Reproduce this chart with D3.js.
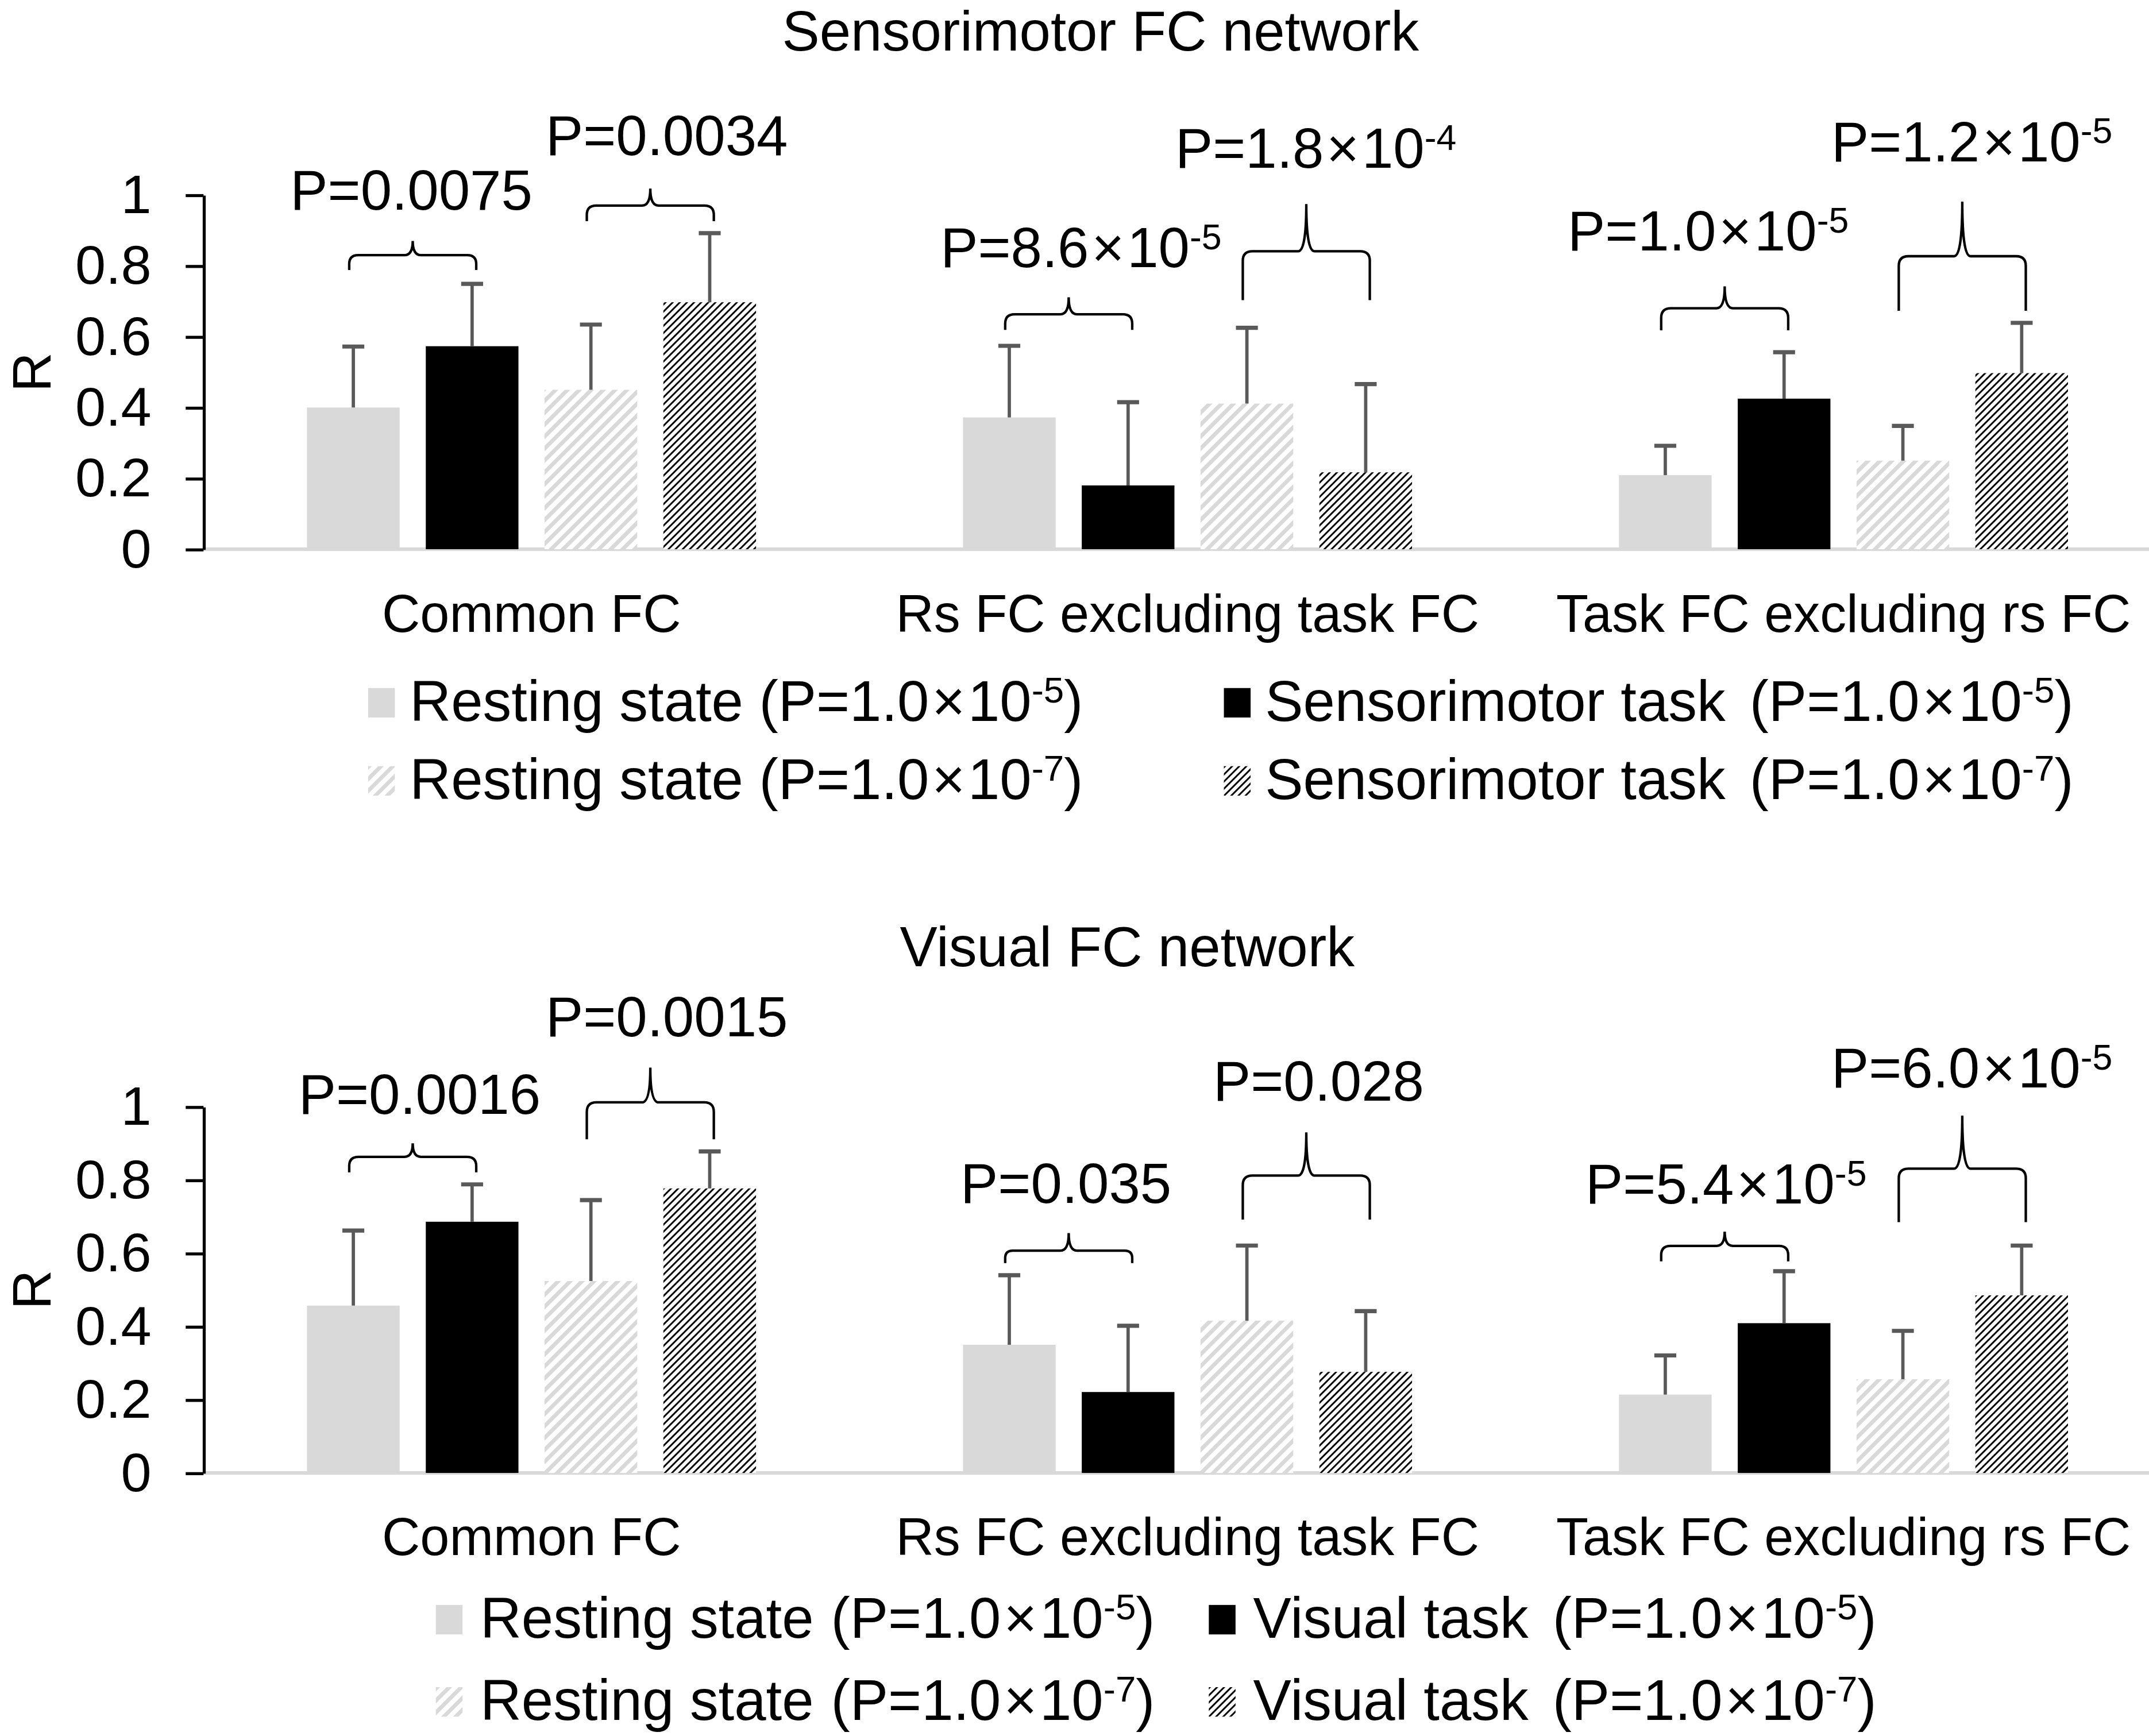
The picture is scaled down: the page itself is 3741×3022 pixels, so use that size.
<!DOCTYPE html>
<html>
<head>
<meta charset="utf-8">
<script src="https://cdn.jsdelivr.net/npm/d3@7"></script>
<style>
  body { margin: 0; background: #fff; }
  svg text { font-family: "Liberation Sans", Arial, Helvetica, sans-serif; fill: #000; }
</style>
</head>
<body>
<script>
// ---- data (R, mean and SD per bar) ----
var categories = ["Common FC", "Rs FC excluding task FC", "Task FC excluding rs FC"];
var seriesKeys = ["rest5", "task5", "rest7", "task7"];
var yTicks = [0, 0.2, 0.4, 0.6, 0.8, 1];

// sensorimotor network
var smRest5 = [0.400, 0.372, 0.209];
var smTask5 = [0.573, 0.180, 0.425];
var smRest7 = [0.450, 0.411, 0.250];
var smTask7 = [0.697, 0.217, 0.497];
var smRest5Err = [0.172, 0.202, 0.083];
var smTask5Err = [0.176, 0.235, 0.131];
var smRest7Err = [0.184, 0.214, 0.098];
var smTask7Err = [0.195, 0.249, 0.142];
var smPValues = ["0.0075", "0.0034", "8.6×10^-5", "1.8×10^-4", "1.0×10^-5", "1.2×10^-5"];
// brace levels in R units: leg end, bar, peak, label baseline
var smBrace = [[0.788, 0.830, 0.870, 0.958], [0.926, 0.970, 1.018, 1.113],
               [0.619, 0.663, 0.711, 0.796], [0.703, 0.841, 0.974, 1.076],
               [0.618, 0.680, 0.742, 0.843], [0.673, 0.827, 0.981, 1.095]];
var smLegend = ["Resting state", "Sensorimotor task", "Resting state", "Sensorimotor task"];

// visual network
var visRest5 = [0.457, 0.350, 0.214];
var visTask5 = [0.686, 0.221, 0.409];
var visRest7 = [0.524, 0.416, 0.256];
var visTask7 = [0.777, 0.276, 0.485];
var visRest5Err = [0.205, 0.190, 0.107];
var visTask5Err = [0.102, 0.181, 0.142];
var visRest7Err = [0.221, 0.205, 0.132];
var visTask7Err = [0.101, 0.166, 0.136];
var visPValues = ["0.0016", "0.0015", "0.035", "0.028", "5.4×10^-5", "6.0×10^-5"];
var visBrace = [[0.821, 0.863, 0.900, 0.980], [0.911, 1.012, 1.107, 1.192],
                [0.573, 0.607, 0.655, 0.738], [0.692, 0.812, 0.930, 1.017],
                [0.578, 0.620, 0.659, 0.736], [0.685, 0.831, 0.976, 1.053]];
var visLegend = ["Resting state", "Visual task", "Resting state", "Visual task"];

var legendP = ["1.0×10^-5", "1.0×10^-5", "1.0×10^-7", "1.0×10^-7"];

// ---- layout (figure drawn in 1568-wide units, scaled up to the window) ----
var W = 1568, H = 1266.6;
var fills = ["#d9d9d9", "#000", "url(#hatchLight)", "url(#hatchDark)"];

var panels = [
  { title: "Sensorimotor FC network", titleX: 803, titleY: 37,
    y0: 400.7, y1: 142.2, catY: 461, rY: 271.5,
    series: [smRest5, smTask5, smRest7, smTask7],
    errs: [smRest5Err, smTask5Err, smRest7Err, smTask7Err],
    pvals: smPValues, brace: smBrace, labelShift: [-1, 12, 9, 7, -12, 7],
    legend: smLegend, legRows: [526, 583], swX: [268.6, 893], txX: [299, 923], gap: [0, 6] },
  { title: "Visual FC network", titleX: 822.5, titleY: 705,
    y0: 1074.7, y1: 807.5, catY: 1134.5, rY: 941,
    series: [visRest5, visTask5, visRest7, visTask7],
    errs: [visRest5Err, visTask5Err, visRest7Err, visTask7Err],
    pvals: visPValues, brace: visBrace, labelShift: [5, 12, -2, 9, 1, 7],
    legend: visLegend, legRows: [1195, 1255], swX: [318, 882], txX: [350.4, 914.4], gap: [1, 6] }
];

var svg = d3.select("body").append("svg")
  .attr("width", 3741).attr("height", 3022)
  .attr("viewBox", "0 0 " + W + " " + H);

// hatch fills: light wide diagonal, dark narrow diagonal
var defs = svg.append("defs");
defs.append("pattern").attr("id", "hatchLight")
  .attr("patternUnits", "userSpaceOnUse").attr("width", 4).attr("height", 6.15)
  .attr("patternTransform", "rotate(-45)")
  .call(function(p) {
    p.append("rect").attr("width", 4).attr("height", 6.15).attr("fill", "#fff");
    p.append("rect").attr("width", 4).attr("height", 2.9).attr("fill", "#d9d9d9");
  });
defs.append("pattern").attr("id", "hatchDark")
  .attr("patternUnits", "userSpaceOnUse").attr("width", 4).attr("height", 3.68)
  .attr("patternTransform", "rotate(-45)")
  .call(function(p) {
    p.append("rect").attr("width", 4).attr("height", 3.68).attr("fill", "#fff");
    p.append("rect").attr("width", 4).attr("height", 1.25).attr("fill", "#000");
  });

var x = d3.scaleBand().domain(categories).range([148.5, 1584.4]).padding(0);
var xs = d3.scaleBand().domain(seriesKeys).range([0, x.bandwidth()])
  .paddingInner(0.22).paddingOuter(0.871);
var bw = xs.bandwidth();

// writes "a×10^b" as text with a raised exponent, returns the rise
function pText(sel, str, size) {
  var parts = str.split("^");
  var m = parts[0].split("×");
  sel.append("tspan").text(m[0]);
  if (m.length > 1) {
    sel.append("tspan").attr("dx", 2).text("×");
    sel.append("tspan").attr("dx", 2).text(m[1]);
  }
  if (parts[1]) {
    sel.append("tspan").attr("font-size", size * 0.64).attr("dy", -size * 0.32).text(parts[1]);
    return size * 0.32;
  }
  return 0;
}

// curly brace opening downwards onto two bars
function brace(x1, x2, yEnd, yBar, yPeak) {
  var xm = (x1 + x2) / 2, r = Math.min(7, (yEnd - yBar) * 0.6), r2 = 6;
  return "M" + x1 + "," + yEnd + " L" + x1 + "," + (yBar + r) +
    " Q" + x1 + "," + yBar + " " + (x1 + r) + "," + yBar +
    " L" + (xm - r2) + "," + yBar +
    " Q" + xm + "," + yBar + " " + xm + "," + yPeak +
    " Q" + xm + "," + yBar + " " + (xm + r2) + "," + yBar +
    " L" + (x2 - r) + "," + yBar +
    " Q" + x2 + "," + yBar + " " + x2 + "," + (yBar + r) +
    " L" + x2 + "," + yEnd;
}

panels.forEach(function(pn) {
  var y = d3.scaleLinear().domain([0, 1]).range([pn.y0, pn.y1]);
  var g = svg.append("g");

  g.append("text").attr("x", pn.titleX).attr("y", pn.titleY)
    .attr("text-anchor", "middle").attr("font-size", 41).text(pn.title);

  // gray baseline
  g.append("line").attr("x1", 148.5).attr("x2", W)
    .attr("y1", pn.y0).attr("y2", pn.y0)
    .attr("stroke", "#d9d9d9").attr("stroke-width", 2.6);

  var ax = g.append("g").attr("transform", "translate(148.5,0)")
    .call(d3.axisLeft(y).tickValues(yTicks).tickSize(13).tickSizeOuter(0).tickPadding(25)
      .tickFormat(function(d) { return (d === 0 || d === 1) ? String(d) : d.toFixed(1); }));
  ax.selectAll("path, line").attr("stroke", "#000").attr("stroke-width", 2.2);
  ax.selectAll("text").attr("font-size", 40).attr("fill", "#000")
    .style("font-family", "'Liberation Sans', Arial, sans-serif");

  g.append("text").attr("transform", "translate(37," + pn.rY + ") rotate(-90)")
    .attr("text-anchor", "middle").attr("font-size", 40).text("R");

  // bars and error bars
  var rows = categories.map(function(c, i) {
    return seriesKeys.map(function(k, j) {
      return { cat: c, key: k, s: j, v: pn.series[j][i], e: pn.errs[j][i] };
    });
  });
  var grp = g.selectAll(".grp").data(rows).enter().append("g")
    .attr("transform", function(d, i) { return "translate(" + x(categories[i]) + ",0)"; });
  grp.selectAll("rect").data(function(d) { return d; }).enter().append("rect")
    .attr("x", function(d) { return xs(d.key); })
    .attr("y", function(d) { return y(d.v); })
    .attr("width", bw)
    .attr("height", function(d) { return y(0) - y(d.v); })
    .attr("fill", function(d) { return fills[d.s]; });
  var eb = grp.selectAll(".eb").data(function(d) { return d; }).enter().append("g");
  eb.append("line")
    .attr("x1", function(d) { return xs(d.key) + bw / 2; })
    .attr("x2", function(d) { return xs(d.key) + bw / 2; })
    .attr("y1", function(d) { return y(d.v); })
    .attr("y2", function(d) { return y(d.v + d.e); })
    .attr("stroke", "#595959").attr("stroke-width", 2.4);
  eb.append("line")
    .attr("x1", function(d) { return xs(d.key) + bw / 2 - 8; })
    .attr("x2", function(d) { return xs(d.key) + bw / 2 + 8; })
    .attr("y1", function(d) { return y(d.v + d.e); })
    .attr("y2", function(d) { return y(d.v + d.e); })
    .attr("stroke", "#595959").attr("stroke-width", 3);

  // category labels
  g.selectAll(".cat").data(categories).enter().append("text")
    .attr("x", function(d) { return x(d) + x.bandwidth() / 2; })
    .attr("y", pn.catY).attr("text-anchor", "middle").attr("font-size", 38.5)
    .text(function(d) { return d; });

  // significance braces
  pn.pvals.forEach(function(pv, i) {
    var cat = categories[Math.floor(i / 2)];
    var a = (i % 2) * 2;
    var x1 = x(cat) + xs(seriesKeys[a]) + bw / 2 - 3;
    var x2 = x(cat) + xs(seriesKeys[a + 1]) + bw / 2 + 3;
    var lv = pn.brace[i];
    g.append("path").attr("d", brace(x1, x2, y(lv[0]), y(lv[1]), y(lv[2])))
      .attr("fill", "none").attr("stroke", "#000").attr("stroke-width", 1.8);
    var t = g.append("text").attr("x", (x1 + x2) / 2 + pn.labelShift[i]).attr("y", y(lv[3]))
      .attr("text-anchor", "middle").attr("font-size", 41);
    t.append("tspan").text("P=");
    pText(t, pv, 41);
  });

  // legend
  pn.legend.forEach(function(name, i) {
    var col = i % 2, row = Math.floor(i / 2);
    var by = pn.legRows[row];
    g.append("rect").attr("x", pn.swX[col]).attr("y", by - 24)
      .attr("width", 19.5).attr("height", 21.5).attr("fill", fills[i]);
    var t = g.append("text").attr("x", pn.txX[col]).attr("y", by).attr("font-size", 41.7);
    t.append("tspan").text(name + " ");
    t.append("tspan").attr("dx", pn.gap[col]).text("(P=");
    var up = pText(t, legendP[i], 41.7);
    t.append("tspan").attr("dy", up).text(")");
  });
});
</script>
</body>
</html>
